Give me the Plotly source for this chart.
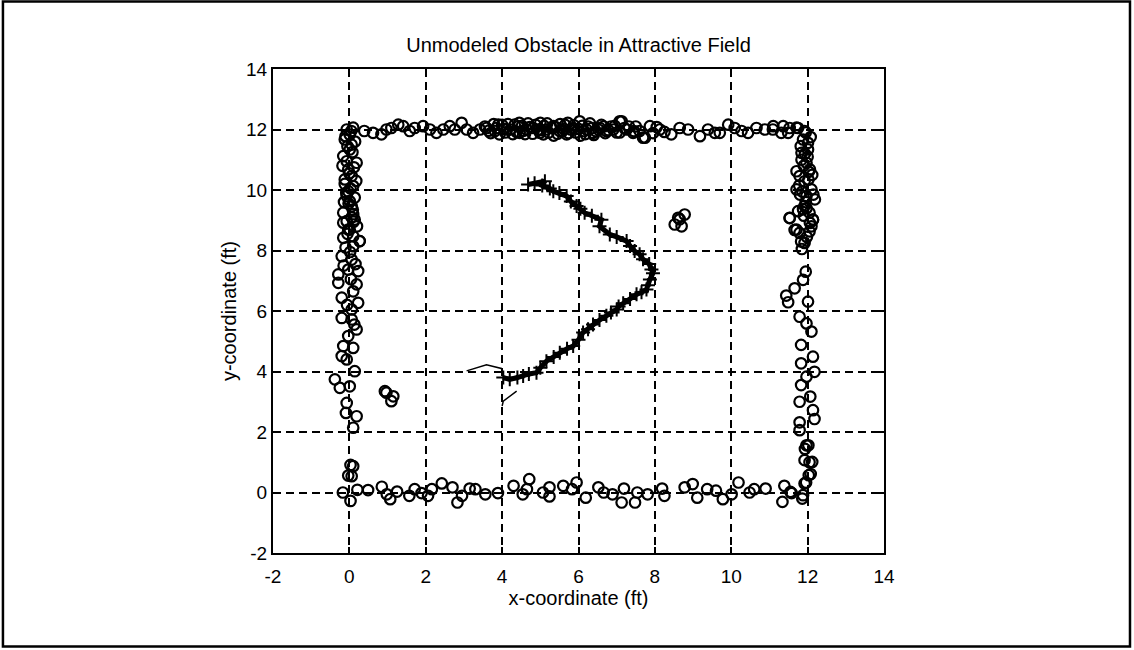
import plotly.graph_objects as go

# ---------------- data ----------------
top_wall_x = [0.39, 0.62, 0.84, 0.97, 1.10, 1.28, 1.41, 1.58, 1.71, 1.93, 2.11, 2.28, 2.46, 2.63, 2.76,
              2.94, 3.07, 3.24, 3.42, 3.59, 3.81, 3.90, 4.12, 4.33, 4.46, 4.64, 4.81, 4.99, 5.16, 5.34,
              5.51, 5.69, 5.86, 6.03, 6.21, 6.38, 6.56, 6.73, 6.91, 7.13, 7.26, 7.43, 7.74,
              7.08, 7.69, 7.87, 8.13, 8.43, 8.65, 8.87, 9.18, 9.39, 9.57, 9.70, 9.92, 10.09, 10.27,
              10.44, 10.66, 10.88, 11.09, 11.31, 11.53, 11.75, 11.92, 11.10, 11.36, 11.49, 11.71,
              3.55, 3.70, 3.85, 4.00, 4.08, 4.22, 4.38, 4.52, 4.60, 4.72, 4.88, 5.02, 5.10, 5.22,
              5.40, 5.58, 5.65, 5.80, 5.92, 6.10, 6.18, 6.30, 6.45, 6.60, 6.70, 6.85, 7.00, 7.20,
              7.50, 7.60, 7.95, 8.05, 8.25,
              3.65, 3.78, 3.93, 4.05, 4.15, 4.28, 4.42, 4.56, 4.68, 4.80, 4.95, 5.08, 5.18, 5.30,
              5.45, 5.52, 5.62, 5.74, 5.88, 6.00, 6.14, 6.25, 6.40, 6.52, 6.66, 6.78, 6.95, 7.08,
              7.32, 7.45, 5.00, 5.35, 5.72, 6.05, 6.35, 4.45]
top_wall_y = [11.95, 11.89, 11.84, 12.00, 12.05, 12.16, 12.11, 11.95, 12.05, 12.11, 12.00, 11.89, 12.00, 12.11, 12.00,
              12.22, 12.00, 11.89, 12.00, 12.05, 11.95, 12.16, 12.00, 12.16, 11.89, 12.00, 12.05, 11.89, 12.00, 12.11,
              11.95, 11.84, 12.05, 12.27, 12.00, 11.89, 12.05, 11.95, 12.00, 12.27, 12.00, 11.89, 11.73,
              12.27, 11.73, 12.11, 12.00, 11.84, 12.05, 12.00, 11.78, 12.00, 11.89, 11.89, 12.16, 12.05, 11.95,
              11.89, 12.05, 12.00, 12.00, 11.89, 12.05, 12.05, 11.95, 12.11, 12.11, 11.89, 12.06,
              12.10, 11.88, 12.05, 12.15, 11.90, 12.00, 11.92, 12.12, 11.85, 12.08, 12.15, 11.98, 12.12, 11.90,
              12.08, 11.95, 12.15, 12.00, 11.90, 12.12, 11.85, 12.20, 11.95, 12.15, 11.88, 12.10, 11.90, 12.05,
              12.10, 11.95, 11.88, 12.08, 11.92,
              11.96, 12.18, 11.84, 12.02, 12.18, 11.85, 12.10, 11.96, 12.20, 11.86, 12.00, 11.84, 12.20, 12.05,
              11.86, 12.18, 12.02, 11.88, 12.14, 12.02, 11.95, 12.10, 11.82, 12.00, 12.10, 11.98, 12.12, 11.90,
              12.10, 11.95, 12.22, 11.80, 12.22, 11.80, 12.05, 12.22]

left_wall_x = [-0.07, 0.10, -0.12, 0.01, -0.16, 0.19, -0.03, -0.12, 0.10, -0.07, 0.06, -0.16, 0.14, -0.16,
               -0.03, 0.27, 0.10, 0.01, 0.06, -0.07, 0.06, -0.03, 0.01, 0.10,
               -0.38, -0.25, 0.01, -0.07, -0.09, 0.19, 0.10, 0.10, 0.06, 0.14, -0.07, -0.20, 0.10, -0.16,
               0.19, -0.03, -0.20, 0.06, 0.23, -0.20, 0.06, -0.29, 0.19, -0.29, 0.23, -0.03, -0.20, 0.06,
               0.27, 0.10, -0.16, 0.01, -0.07,
               0.05, -0.10, 0.15, -0.05, 0.08, -0.18, 0.12, 0.00, -0.12, 0.18, 0.03, -0.08, 0.14, -0.02,
               0.09, -0.14, 0.06, 0.20, -0.05, 0.11, -0.10, 0.02, 0.16, -0.15, 0.04, 0.10, -0.06, 0.13]
left_wall_y = [12.00, 12.06, 11.67, 11.34, 11.12, 10.90, 10.68, 10.35, 10.13, 9.80, 9.46, 9.25, 9.02, 8.92,
               8.69, 8.31, 8.47, 11.83, 11.50, 10.95, 10.46, 9.96, 9.63, 9.20,
               3.74, 3.46, 3.51, 2.96, 2.63, 2.52, 2.14, 0.87, 0.54, 4.01, 4.40, 4.51, 4.78, 4.84,
               5.39, 5.17, 5.77, 5.72, 6.27, 6.44, 6.05, 6.93, 6.88, 7.21, 7.32, 7.37, 7.81, 7.70,
               8.31, 8.14, 8.42, 8.69, 8.97,
               11.95, 11.78, 11.60, 11.45, 11.25, 10.80, 10.75, 10.55, 10.20, 10.30, 10.05, 9.90, 9.75, 9.55,
               9.35, 9.60, 9.10, 8.80, 8.55, 8.95, 8.10, 7.95, 7.55, 7.50, 7.05, 6.65, 6.20, 5.55]

right_wall_x = [11.88, 12.01, 11.84, 12.06, 11.71, 11.92, 12.10, 11.71, 12.19, 11.92, 11.53, 12.14, 11.71,
                12.01, 11.84, 11.97, 11.79, 11.97, 11.88, 12.06, 11.79, 11.92, 11.66, 12.05, 11.83,
                11.95, 11.88, 11.66, 11.44, 11.49, 12.01, 11.79, 11.97, 12.10, 11.83, 12.14, 11.83,
                12.18, 11.97, 11.83, 12.07, 11.79, 12.14, 12.18, 11.79, 11.79, 11.97, 12.12, 11.92,
                12.03, 11.92, 11.53, 11.97, 12.14,
                11.95, 12.08, 11.82, 12.00, 11.90, 12.12, 11.78, 12.02, 11.86, 12.15, 11.95, 11.80,
                12.05, 11.90, 11.75, 12.10, 11.98, 11.85, 12.03, 11.93]
right_wall_y = [11.67, 11.34, 11.00, 10.68, 10.62, 10.29, 10.02, 10.02, 9.69, 9.47, 9.08, 9.02, 8.69,
                11.56, 11.23, 10.90, 10.46, 9.80, 9.36, 8.91, 8.58, 8.25, 8.68, 8.63, 8.30,
                7.30, 7.03, 6.75, 6.51, 6.29, 6.31, 5.81, 5.59, 5.32, 4.88, 4.49, 4.27,
                3.99, 3.83, 3.55, 3.17, 3.00, 2.72, 2.43, 2.32, 2.06, 1.56, 1.01, 1.07,
                0.57, 0.30, 9.07, 9.40, 9.02,
                11.90, 11.75, 11.45, 11.10, 10.80, 10.50, 10.15, 10.35, 9.95, 9.85, 9.60, 9.85,
                9.25, 9.15, 9.30, 8.80, 8.45, 8.05, 10.60, 11.20]

bottom_wall_x = [-0.17, 0.03, -0.03, 0.03, 0.21, 0.49, 0.85, 0.98, 1.07, 1.25, 1.57, 1.71, 1.89, 2.06,
                 2.16, 2.42, 2.70, 2.83, 2.95, 3.15, 3.30, 3.56, 3.89, 4.30, 4.54, 4.71, 4.65, 5.07,
                 5.24, 5.24, 5.60, 5.83, 5.95, 6.19, 6.52, 6.66, 6.89, 7.19, 7.13, 7.54, 7.48, 7.81,
                 8.19, 8.25, 8.78, 8.99, 9.11, 9.37, 9.60, 9.78, 10.01, 10.19, 10.48, 10.60, 10.90,
                 11.39, 11.34, 11.58, 11.86, 11.96, 12.08, 12.05, 12.02, 11.93, 11.55, 11.88]
bottom_wall_y = [0.00, 0.91, 0.56, -0.28, 0.09, 0.08, 0.19, -0.06, -0.22, 0.03, -0.11, 0.11, -0.02, -0.11,
                 0.11, 0.30, 0.17, -0.33, -0.11, 0.13, 0.11, -0.06, -0.02, 0.22, -0.06, 0.44, 0.11, 0.00,
                 0.17, -0.13, 0.22, 0.11, 0.33, -0.17, 0.17, 0.00, -0.06, 0.13, -0.33, 0.00, -0.33, -0.06,
                 0.13, -0.11, 0.17, 0.28, -0.17, 0.11, 0.06, -0.22, -0.06, 0.33, 0.00, 0.11, 0.13,
                 0.22, -0.31, -0.02, -0.20, 0.33, 0.61, 1.00, 1.56, 1.44, 0.02, -0.09]

obstacle_x = [8.61, 8.78, 8.52, 8.70, 8.65, 0.97, 1.15, 1.10, 0.93]
obstacle_y = [9.08, 9.19, 8.86, 8.80, 9.03, 3.30, 3.18, 3.02, 3.35]

path_x = [4.68, 4.85, 5.12, 5.05, 5.25, 5.34, 5.50, 5.69, 5.80, 5.95, 6.05, 6.16, 6.35, 6.60, 6.55,
          6.82, 7.00, 7.26, 7.35, 7.47, 7.60, 7.69, 7.85, 7.91, 7.95, 7.87, 7.82, 7.78, 7.65, 7.52,
          7.35, 7.17, 7.05, 7.00, 6.85, 6.73, 6.55, 6.38, 6.25, 6.12, 6.00, 5.86, 5.70, 5.51, 5.35,
          5.16, 5.00, 4.90, 4.70, 4.55, 4.40, 4.20, 4.03]
path_y = [10.18, 10.22, 10.29, 10.15, 10.05, 9.96, 9.90, 9.80, 9.62, 9.47, 9.38, 9.25, 9.15, 9.02, 8.80,
          8.53, 8.45, 8.31, 8.15, 7.98, 7.88, 7.71, 7.55, 7.37, 7.25, 7.04, 6.85, 6.71, 6.62, 6.55,
          6.40, 6.26, 6.15, 6.05, 5.95, 5.84, 5.70, 5.55, 5.40, 5.29, 5.05, 4.84, 4.75, 4.62, 4.48,
          4.34, 4.12, 3.96, 3.92, 3.85, 3.80, 3.74, 3.80]
tail_x = [4.05, 3.98, 3.59, 3.07]
tail_y = [3.80, 4.10, 4.22, 4.02]
start_x = [4.38, 4.03, 4.00]
start_y = [3.35, 3.02, 2.86]

tick_vals = [-2, 0, 2, 4, 6, 8, 10, 12, 14]

# ---------------- figure ----------------
FONT = "Liberation Sans, Arial, sans-serif"
fig = go.Figure()

marker = dict(symbol="circle-open", size=10.5, color="black", line=dict(color="black", width=2.2))
for xs, ys in [(top_wall_x, top_wall_y), (left_wall_x, left_wall_y), (right_wall_x, right_wall_y),
               (bottom_wall_x, bottom_wall_y), (obstacle_x, obstacle_y)]:
    fig.add_trace(go.Scatter(x=xs, y=ys, mode="markers", marker=marker, showlegend=False, hoverinfo="skip"))

fig.add_trace(go.Scatter(x=path_x, y=path_y, mode="lines+markers",
                         line=dict(color="black", width=5),
                         marker=dict(symbol="cross-thin-open", size=10, color="black",
                                     line=dict(color="black", width=2)),
                         showlegend=False, hoverinfo="skip"))
fig.add_trace(go.Scatter(x=tail_x, y=tail_y, mode="lines", line=dict(color="black", width=1.5),
                         showlegend=False, hoverinfo="skip"))
fig.add_trace(go.Scatter(x=start_x, y=start_y, mode="lines", line=dict(color="black", width=1.5),
                         showlegend=False, hoverinfo="skip"))

axis_common = dict(
    range=[-2, 14], tickmode="array", tickvals=tick_vals, ticktext=[str(v) for v in tick_vals],
    showgrid=True, gridcolor="black", gridwidth=2, griddash="8px,5px",
    zeroline=False, showline=True, linecolor="black", linewidth=2, mirror="ticks",
    ticks="inside", ticklen=6, tickcolor="black", tickwidth=1.5,
    tickfont=dict(family=FONT, size=19, color="black"),
)
fig.update_xaxes(**axis_common, ticklabelstandoff=5,
                 title=dict(text="x-coordinate (ft)", font=dict(family=FONT, size=20, color="black"), standoff=4))
fig.update_yaxes(**axis_common,
                 title=dict(text="y-coordinate (ft)", font=dict(family=FONT, size=20, color="black"), standoff=4))

fig.update_layout(
    width=1134, height=650,
    margin=dict(l=273, r=250, t=69, b=97, autoexpand=False),
    paper_bgcolor="white", plot_bgcolor="white",
    title=dict(text="Unmodeled Obstacle in Attractive Field", x=0.5, xref="paper", xanchor="center",
               y=(650 - 45) / 650, yanchor="middle", font=dict(family=FONT, size=20, color="black")),
    shapes=[dict(type="rect", xref="paper", yref="paper", x0=-0.442, x1=1.4026, y0=-0.1932, y1=1.1395,
                 line=dict(color="black", width=2.5), layer="above")],
)

fig.write_html("out.html", config={"displayModeBar": False},
               post_script="document.body.style.margin='0';document.body.style.padding='0';")
